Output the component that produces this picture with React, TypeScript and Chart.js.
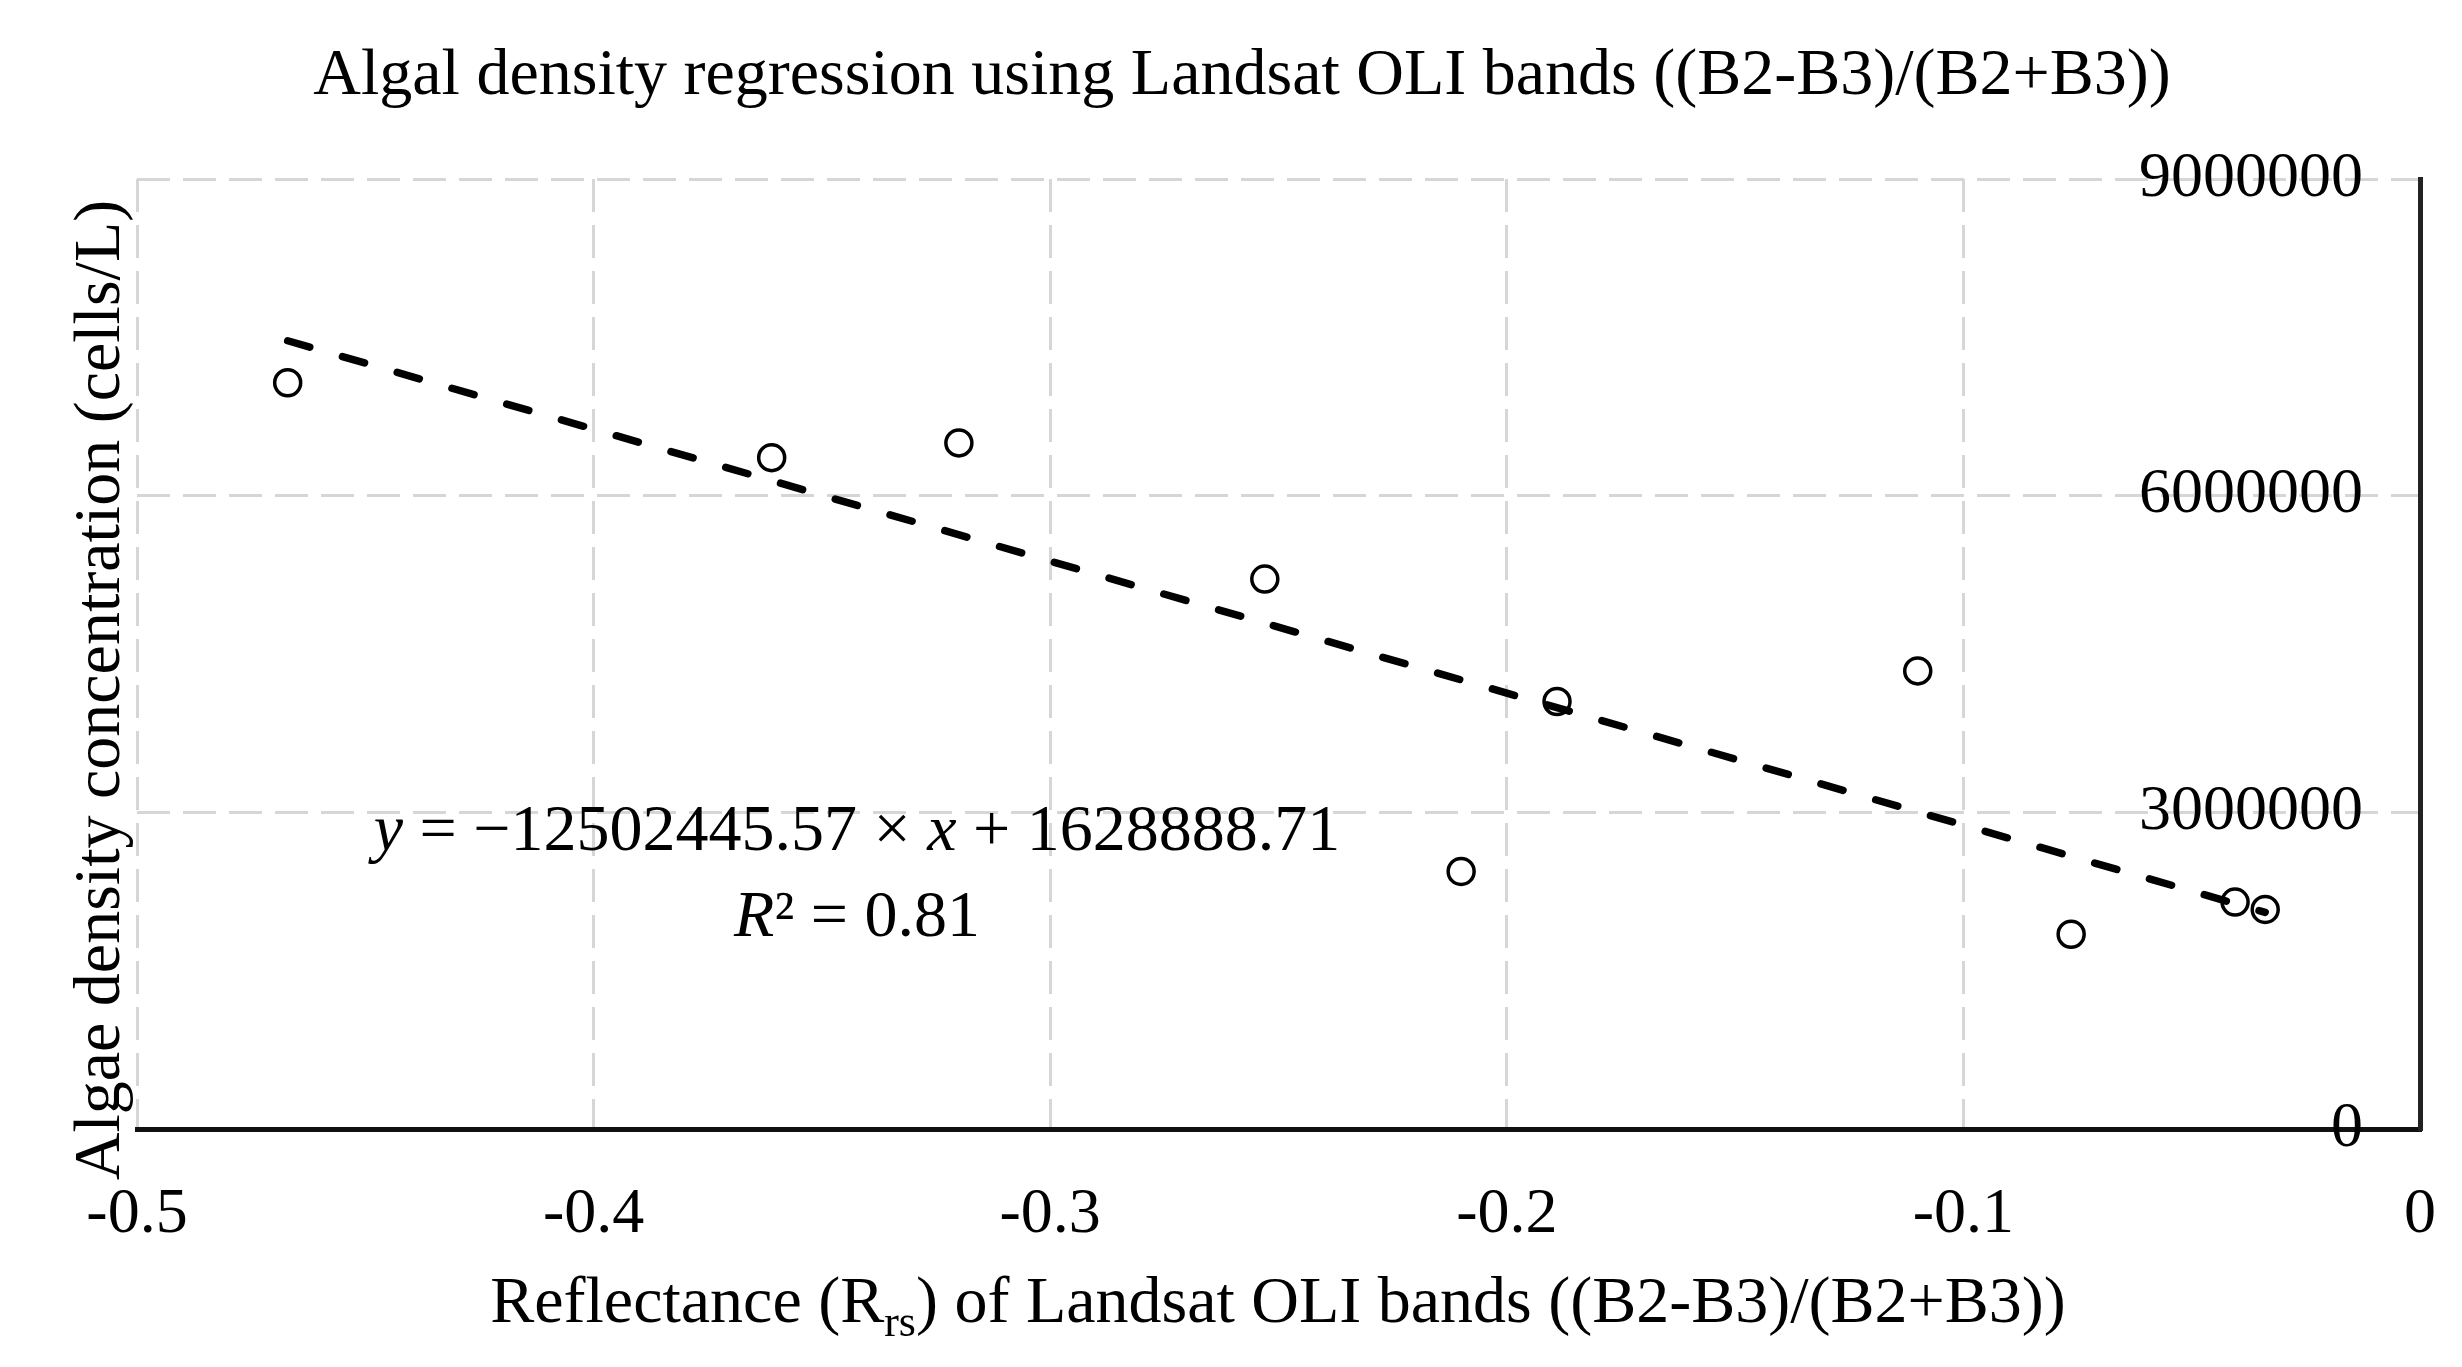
import React, { useEffect, useRef } from 'react';
import { Chart, registerables } from 'chart.js';

Chart.register(...registerables);

// ---- data ----
const reflectance = [-0.467, -0.361, -0.320, -0.253, -0.210, -0.189, -0.110, -0.0764, -0.0405, -0.0339];
const algaeDensity = [7070000, 6360000, 6500000, 5210000, 2440000, 4050000, 4340000, 1845000, 2150000, 2080000];
const xTickValues = [-0.5, -0.4, -0.3, -0.2, -0.1, 0];
const yTickValues = [0, 3000000, 6000000, 9000000];
const fitSlope = -12502445.57;
const fitIntercept = 1628888.71;
const fitR2 = 0.81;

const chartTitle = 'Algal density regression using Landsat OLI bands ((B2-B3)/(B2+B3))';
const yTitle = 'Algae density concentration (cells/L)';

const W = 2462;
const H = 1367;
const SERIF = '"Liberation Serif", "Times New Roman", serif';

type Run = { t: string; italic?: boolean; size?: number; dy?: number };

function drawRuns(ctx: CanvasRenderingContext2D, runs: Run[], cx: number, baseY: number, size: number) {
  const fontOf = (r: Run) => `${r.italic ? 'italic ' : ''}${r.size ?? size}px ${SERIF}`;
  const widths = runs.map((r) => {
    ctx.font = fontOf(r);
    return ctx.measureText(r.t).width;
  });
  const total = widths.reduce((a, b) => a + b, 0);
  let x = cx - total / 2;
  ctx.textAlign = 'left';
  ctx.textBaseline = 'alphabetic';
  runs.forEach((r, i) => {
    ctx.font = fontOf(r);
    ctx.fillText(r.t, x, baseY + (r.dy ?? 0));
    x += widths[i];
  });
}

const textPlugin = {
  id: 'texts',
  afterDraw(chart: any) {
    const ctx: CanvasRenderingContext2D = chart.ctx;
    ctx.save();
    ctx.fillStyle = '#000';
    // main title
    drawRuns(ctx, [{ t: chartTitle }], 1242, 94, 66);
    // x axis title with subscript
    drawRuns(
      ctx,
      [
        { t: 'Reflectance (R' },
        { t: 'rs', size: 44, dy: 14 },
        { t: ') of Landsat OLI bands ((B2-B3)/(B2+B3))' },
      ],
      1278,
      1322,
      66
    );
    // y axis title (rotated)
    ctx.save();
    ctx.translate(97 + 22, 690);
    ctx.rotate(-Math.PI / 2);
    drawRuns(ctx, [{ t: yTitle }], 0, 0, 66);
    ctx.restore();
    // regression equation
    const slopeTxt = Math.abs(fitSlope).toFixed(2);
    const interTxt = fitIntercept.toFixed(2);
    drawRuns(
      ctx,
      [
        { t: 'y', italic: true },
        { t: ` = \u2212${slopeTxt} \u00d7 ` },
        { t: 'x', italic: true },
        { t: ` + ${interTxt}` },
      ],
      857,
      850,
      66
    );
    drawRuns(ctx, [{ t: 'R', italic: true }, { t: `\u00b2 = ${fitR2.toFixed(2)}` }], 857, 936, 66);
    ctx.restore();
  },
};

export default function App() {
  const canvasRef = useRef<HTMLCanvasElement | null>(null);

  useEffect(() => {
    document.body.style.margin = '0';
    const canvas = canvasRef.current;
    if (!canvas) return;
    const points = reflectance.map((x, i) => ({ x, y: algaeDensity[i] }));
    const xMin = Math.min(...reflectance);
    const xMax = Math.max(...reflectance);
    const fitLine = [
      { x: xMin, y: fitSlope * xMin + fitIntercept },
      { x: xMax, y: fitSlope * xMax + fitIntercept },
    ];
    const gridColor = '#d6d6d6';
    const chart = new Chart(canvas, {
      type: 'scatter',
      data: {
        datasets: [
          {
            label: 'Samples',
            data: points,
            pointStyle: 'circle',
            pointRadius: 13,
            pointHoverRadius: 13,
            pointBorderWidth: 3.5,
            borderColor: '#000',
            backgroundColor: 'rgba(0,0,0,0)',
            showLine: false,
            order: 2,
          },
          {
            label: 'Fit',
            type: 'line',
            data: fitLine,
            borderColor: '#000',
            borderWidth: 7.5,
            borderDash: [23, 34],
            borderCapStyle: 'round',
            pointRadius: 0,
            fill: false,
            order: 1,
          } as any,
        ],
      },
      options: {
        responsive: false,
        animation: false,
        devicePixelRatio: 1,
        events: [],
        layout: { padding: { left: 137, right: W - 2420, top: 179, bottom: 0 } },
        plugins: {
          legend: { display: false },
          title: { display: false },
          tooltip: { enabled: false },
        },
        scales: {
          x: {
            type: 'linear',
            position: 'bottom',
            min: -0.5,
            max: 0,
            afterBuildTicks: (s: any) => {
              s.ticks = xTickValues.map((v) => ({ value: v }));
            },
            afterFit: (s: any) => {
              s.height = H - 1129;
              s.paddingLeft = 0;
              s.paddingRight = 0;
            },
            ticks: {
              color: '#000',
              font: { family: SERIF, size: 64 },
              padding: 48,
              maxRotation: 0,
              autoSkip: false,
              callback: (v: any) => (Number(v) === 0 ? '0' : Number(v).toFixed(1)),
            },
            grid: { color: gridColor, lineWidth: 3, drawTicks: false },
            border: { display: true, color: '#111', width: 5, dash: [33, 13] },
          },
          y: {
            type: 'linear',
            position: 'right',
            min: 0,
            max: 9000000,
            afterBuildTicks: (s: any) => {
              s.ticks = yTickValues.map((v) => ({ value: v }));
            },
            afterFit: (s: any) => {
              s.width = 0;
              s.paddingTop = 0;
              s.paddingBottom = 0;
            },
            ticks: {
              color: '#000',
              font: { family: SERIF, size: 64 },
              mirror: true,
              padding: -57,
              autoSkip: false,
              callback: (v: any) => String(v),
            },
            grid: { color: gridColor, lineWidth: 3, drawTicks: false },
            border: { display: true, color: '#222', width: 5, dash: [33, 13] },
          },
        },
      },
      plugins: [textPlugin],
    });
    return () => chart.destroy();
  }, []);

  return (
    <div style={{ position: 'absolute', left: 0, top: 0, width: W, height: H, background: '#fff' }}>
      <canvas ref={canvasRef} width={W} height={H} style={{ width: W, height: H, display: 'block' }} />
    </div>
  );
}
